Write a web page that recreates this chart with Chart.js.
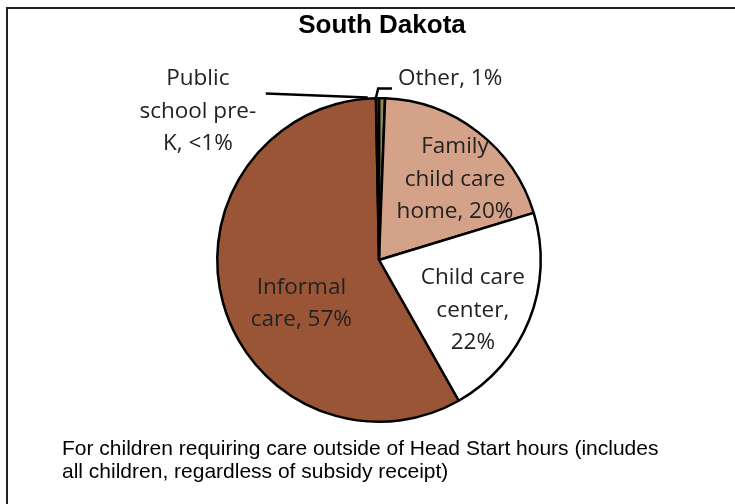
<!DOCTYPE html>
<html><head><meta charset="utf-8">
<script src="https://cdn.jsdelivr.net/npm/chart.js@4.4.1/dist/chart.umd.min.js"></script>
<style>html,body{margin:0;padding:0;background:#fff}#wrap{width:735px;height:504px;position:relative}</style>
</head><body><div id="wrap"><canvas id="c" width="735" height="504"></canvas></div>
<script>
const title = "South Dakota";
const categories = ["Other", "Family child care home", "Child care center", "Informal care", "Public school pre-K"];
const shares = [0.6, 19.7, 21.5, 57.9, 0.3];
const labelLines = [["Other, 1%"], ["Family", "child care", "home, 20%"], ["Child care", "center,", "22%"], ["Informal", "care, 57%"], ["Public", "school pre-", "K, <1%"]];
const footnote = ["For children requiring care outside of Head Start hours (includes", "all children, regardless of subsidy receipt)"];
const colors = ["#8E8A5A", "#D4A189", "#FFFFFF", "#9A5536", "#4F6228"];
// label anchors in radius units relative to pie center
const anchors = [[0.44, -1.12], [0.47, -0.50], [0.58, 0.31], [-0.48, 0.27], [-1.12, -0.92]];

const deco = {
  id: 'deco',
  beforeDraw(chart) {
    const ctx = chart.ctx;
    ctx.save();
    ctx.fillStyle = '#fff';
    ctx.fillRect(0, 0, chart.width, chart.height);
    ctx.strokeStyle = '#222';
    ctx.lineWidth = 2;
    ctx.beginPath();
    ctx.moveTo(7, chart.height);
    ctx.lineTo(7, 8);
    ctx.lineTo(chart.width, 8);
    ctx.stroke();
    ctx.restore();
  },
  afterDraw(chart) {
    const ctx = chart.ctx;
    const arc = chart.getDatasetMeta(0).data[0];
    const cx = arc.x, cy = arc.y, r = arc.outerRadius;
    ctx.save();
    ctx.fillStyle = '#000';
    ctx.textAlign = 'center';
    ctx.textBaseline = 'alphabetic';
    ctx.font = 'bold 26px "Liberation Sans", Arial, sans-serif';
    ctx.fillText(title, cx + 3, 33);
    ctx.textBaseline = 'middle';
    ctx.font = '22.5px "Open Sans", sans-serif';
    ctx.fillStyle = '#222';
    labelLines.forEach((lines, i) => {
      const ax = cx + anchors[i][0] * r, ay = cy + anchors[i][1] * r;
      const lh = 32.5;
      lines.forEach((t, j) => {
        ctx.fillText(t, ax, ay + (j - (lines.length - 1) / 2) * lh);
      });
    });
    // leader lines
    ctx.strokeStyle = '#000';
    ctx.lineWidth = 2.5;
    ctx.beginPath();
    ctx.moveTo(cx - 0.70 * r, cy - 1.029 * r);
    ctx.lineTo(cx - 0.07 * r, cy - 1.005 * r);
    ctx.stroke();
    ctx.beginPath();
    ctx.moveTo(cx - 0.02 * r, cy - 1.0 * r);
    ctx.lineTo(cx - 0.005 * r, cy - 1.06 * r);
    ctx.lineTo(cx + 0.08 * r, cy - 1.06 * r);
    ctx.stroke();
    ctx.textAlign = 'left';
    ctx.textBaseline = 'alphabetic';
    ctx.font = '21px "Liberation Sans", Arial, sans-serif';
    ctx.fillStyle = '#000';
    footnote.forEach((t, j) => ctx.fillText(t, 62, 455 + j * 23));
    ctx.restore();
  }
};

new Chart(document.getElementById('c'), {
  type: 'pie',
  data: { labels: categories, datasets: [{ data: shares, backgroundColor: colors, borderColor: '#000', borderWidth: 2.5 }] },
  options: {
    responsive: false, animation: false,
    layout: { padding: { left: 216, right: 193, top: 97, bottom: 81 } },
    plugins: { legend: { display: false }, tooltip: { enabled: false }, title: { display: false } }
  },
  plugins: [deco]
});
</script></body></html>
